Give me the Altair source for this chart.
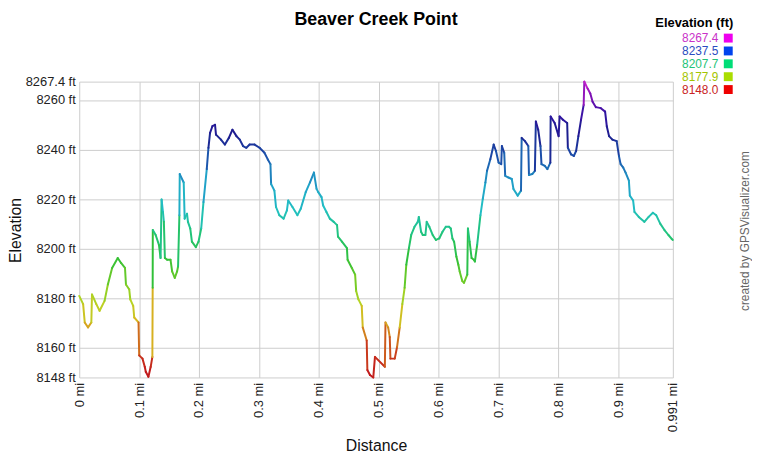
import altair as alt
import pandas as pd

# ---- data ----
distance_mi = [
    0.0000, 0.0065, 0.0092, 0.0147, 0.0202, 0.0213, 0.0285, 0.0340, 0.0423, 0.0478,
    0.0549, 0.0643, 0.0698, 0.0764, 0.0780, 0.0835, 0.0852, 0.0901, 0.0918, 0.0990,
    0.1001, 0.1056, 0.1094, 0.1111, 0.1155, 0.1193, 0.1221, 0.1226, 0.1228, 0.1276,
    0.1331, 0.1358, 0.1375, 0.1397, 0.1413, 0.1430, 0.1468, 0.1524, 0.1551, 0.1595,
    0.1634, 0.1650, 0.1672, 0.1678, 0.1744, 0.1760, 0.1799, 0.1815, 0.1854, 0.1881,
    0.1947, 0.1991, 0.2036, 0.2074, 0.2129, 0.2157, 0.2184, 0.2223, 0.2267, 0.2283,
    0.2366, 0.2432, 0.2498, 0.2558, 0.2625, 0.2680, 0.2735, 0.2790, 0.2845, 0.2927,
    0.3010, 0.3092, 0.3148, 0.3192, 0.3203, 0.3258, 0.3285, 0.3340, 0.3412, 0.3467,
    0.3489, 0.3560, 0.3643, 0.3698, 0.3781, 0.3852, 0.3918, 0.3962, 0.3990, 0.4045,
    0.4072, 0.4127, 0.4183, 0.4249, 0.4304, 0.4320, 0.4386, 0.4469, 0.4480, 0.4551,
    0.4606, 0.4623, 0.4661, 0.4716, 0.4733, 0.4799, 0.4810, 0.4854, 0.4909, 0.4937,
    0.5102, 0.5113, 0.5157, 0.5184, 0.5195, 0.5267, 0.5306, 0.5350, 0.5394, 0.5432,
    0.5460, 0.5504, 0.5542, 0.5597, 0.5652, 0.5669, 0.5707, 0.5735, 0.5779, 0.5801,
    0.5845, 0.5900, 0.5955, 0.6010, 0.6065, 0.6120, 0.6175, 0.6203, 0.6230, 0.6258,
    0.6296, 0.6329, 0.6351, 0.6395, 0.6423, 0.6478, 0.6489, 0.6517, 0.6550, 0.6588,
    0.6605, 0.6643, 0.6698, 0.6737, 0.6781, 0.6808, 0.6863, 0.6919, 0.6957, 0.7001,
    0.7045, 0.7056, 0.7095, 0.7111, 0.7166, 0.7221, 0.7249, 0.7320, 0.7375, 0.7386,
    0.7441, 0.7497, 0.7508, 0.7563, 0.7607, 0.7623, 0.7662, 0.7700, 0.7717, 0.7772,
    0.7816, 0.7865, 0.7870, 0.7937, 0.8003, 0.8020, 0.8075, 0.8146, 0.8157, 0.8212,
    0.8256, 0.8295, 0.8333, 0.8377, 0.8421, 0.8432, 0.8487, 0.8532, 0.8570, 0.8625,
    0.8708, 0.8779, 0.8807, 0.8845, 0.8900, 0.8972, 0.9010, 0.9038, 0.9082, 0.9121,
    0.9176, 0.9192, 0.9247, 0.9269, 0.9341, 0.9434, 0.9506, 0.9577, 0.9632, 0.9699,
    0.9770, 0.9836, 0.9891, 0.9910,
]

elevation_ft = [
    8180.9, 8177.6, 8170.2, 8168.2, 8170.2, 8181.5, 8177.6, 8174.9, 8178.9, 8185.5,
    8192.2, 8196.2, 8194.2, 8192.2, 8185.5, 8183.5, 8179.5, 8176.9, 8172.2, 8170.2,
    8156.9, 8155.6, 8152.3, 8150.3, 8148.3, 8152.3, 8156.3, 8184.2, 8207.5, 8205.5,
    8201.5, 8196.2, 8219.8, 8214.8, 8210.8, 8196.2, 8195.5, 8195.5, 8190.8, 8188.2,
    8190.8, 8192.8, 8213.5, 8230.1, 8226.7, 8212.1, 8214.1, 8210.8, 8208.1, 8202.8,
    8200.6, 8202.8, 8208.1, 8218.8, 8232.1, 8240.7, 8246.7, 8249.4, 8250.0, 8246.0,
    8244.0, 8242.0, 8244.7, 8248.0, 8245.4, 8244.0, 8241.4, 8240.7, 8242.0, 8242.0,
    8240.7, 8238.7, 8236.0, 8234.1, 8226.1, 8223.4, 8216.8, 8213.5, 8212.1, 8215.4,
    8219.4, 8216.8, 8213.5, 8216.1, 8222.8, 8226.7, 8230.7, 8224.1, 8222.8, 8220.8,
    8217.4, 8214.8, 8212.1, 8210.8, 8209.5, 8204.8, 8202.8, 8200.2, 8195.5, 8192.2,
    8189.5, 8182.9, 8179.5, 8176.9, 8168.2, 8162.9, 8151.0, 8149.0, 8148.0, 8156.3,
    8152.3, 8170.2, 8168.2, 8164.3, 8155.6, 8155.6, 8160.3, 8168.2, 8177.6, 8184.2,
    8193.5, 8200.2, 8205.5, 8208.8, 8210.8, 8212.8, 8206.8, 8205.5, 8205.5, 8210.8,
    8208.8, 8205.5, 8203.5, 8204.1, 8206.8, 8208.8, 8208.8, 8208.1, 8204.1, 8202.8,
    8196.8, 8193.5, 8190.8, 8186.9, 8186.2, 8189.5, 8208.1, 8202.8, 8196.2, 8195.5,
    8194.8, 8201.5, 8213.5, 8220.1, 8226.7, 8231.4, 8236.1, 8242.0, 8239.4, 8234.7,
    8234.1, 8241.4, 8238.7, 8229.4, 8228.7, 8228.1, 8224.1, 8221.4, 8223.4, 8244.7,
    8243.4, 8241.4, 8229.7, 8230.1, 8231.4, 8251.3, 8248.0, 8241.4, 8234.1, 8233.4,
    8232.1, 8234.7, 8253.3, 8250.7, 8245.4, 8253.3, 8252.0, 8250.7, 8240.7, 8238.0,
    8237.4, 8239.4, 8245.4, 8252.0, 8258.0, 8267.4, 8264.6, 8262.6, 8259.3, 8257.1,
    8256.7, 8255.3, 8249.4, 8245.4, 8244.0, 8243.4, 8237.4, 8234.1, 8232.7, 8230.7,
    8227.4, 8221.4, 8219.4, 8214.8, 8212.8, 8210.8, 8212.8, 8214.5, 8213.5, 8210.1,
    8207.5, 8205.5, 8203.9, 8203.5,
]

x_ticks = [0, 0.1, 0.2, 0.3, 0.4, 0.5, 0.6, 0.7, 0.8, 0.9, 0.991]
y_ticks = [8148, 8160, 8180, 8200, 8220, 8240, 8260, 8267.4]

chart_title = "Beaver Creek Point"
legend_title = "Elevation (ft)"
credit_text = "created by GPSVisualizer.com"

legend_labels = ["8267.4", "8237.5", "8207.7", "8177.9", "8148.0"]
legend_text_colors = ["#c932c9", "#2a4cc0", "#24c477", "#a3c400", "#c92424"]
legend_swatch_colors = ["#ee00ee", "#0044ee", "#00dd77", "#aadd00", "#ee0000"]

color_stops = [8148, 8156, 8164, 8171, 8178, 8186, 8196, 8206, 8216, 8226,
               8236, 8246, 8254, 8260, 8267.4]
color_range = ["#c0141c", "#c8321c", "#d0701c", "#d8b820", "#b8d424", "#78cc24",
               "#30c038", "#20c47c", "#22c0c4", "#20a0c8", "#1c58ae", "#1c1c8e",
               "#3414a4", "#7010b0", "#d020d0"]

FONT = "Liberation Sans"

# ---- segments of the profile ----
seg = pd.DataFrame({
    "d0": distance_mi[:-1], "d1": distance_mi[1:],
    "e0": elevation_ft[:-1], "e1": elevation_ft[1:],
})
seg["mid"] = (seg["e0"] + seg["e1"]) / 2

profile = alt.Chart(seg).mark_rule(strokeWidth=2, strokeCap="round").encode(
    x=alt.X("d0:Q",
            scale=alt.Scale(domain=[0, 0.991], nice=False, zero=False),
            axis=alt.Axis(values=x_ticks, labelExpr="datum.value + ' mi'",
                          title="Distance", grid=True, gridColor="#cccccc",
                          domain=False, ticks=False, labelAngle=270,
                          labelAlign="right", labelBaseline="middle",
                          labelPadding=5, labelFlush=False, labelOverlap=False,
                          labelFont=FONT, labelFontSize=13, labelColor="#222222",
                          titleFont=FONT, titleFontSize=16, titleFontWeight="normal",
                          titleColor="#111111", titleX=300, titleY=69,
                          titleBaseline="middle", titleAlign="center")),
    x2="d1:Q",
    y=alt.Y("e0:Q",
            scale=alt.Scale(domain=[8148, 8267.4], nice=False, zero=False),
            axis=alt.Axis(values=y_ticks, labelExpr="datum.value + ' ft'",
                          title="Elevation", grid=True, gridColor="#cccccc",
                          domain=False, ticks=False, labelPadding=4,
                          labelFlush=False, labelOverlap=False,
                          labelFont=FONT, labelFontSize=13, labelColor="#222222",
                          titleFont=FONT, titleFontSize=16, titleFontWeight="normal",
                          titleColor="#111111", titleX=-64, titleY=150,
                          titleAngle=270, titleBaseline="middle", titleAlign="center")),
    y2="e1:Q",
    color=alt.Color("mid:Q",
                    scale=alt.Scale(domain=color_stops, range=color_range, interpolate="rgb"),
                    legend=None),
)

# ---- custom legend ----
leg = pd.DataFrame({
    "label": legend_labels,
    "tcolor": legend_text_colors,
    "scolor": legend_swatch_colors,
    "row": list(range(len(legend_labels))),
})
leg_y = alt.Y("row:Q", scale=alt.Scale(domain=[0, 4], range=[-44, 8]), axis=None)

leg_text = alt.Chart(leg).mark_text(
    align="right", baseline="middle", font=FONT, fontSize=12
).encode(x=alt.value(646), y=leg_y, text="label:N",
         color=alt.Color("tcolor:N", scale=None))

leg_sw = alt.Chart(leg).mark_square(size=81, filled=True, opacity=1).encode(
    x=alt.value(656), y=leg_y, color=alt.Color("scolor:N", scale=None))

leg_head = alt.Chart(pd.DataFrame({"t": [legend_title]})).mark_text(
    align="right", baseline="middle", font=FONT, fontSize=13, fontWeight="bold",
    color="#000000"
).encode(x=alt.value(661), y=alt.value(-59), text="t:N")

title_mark = alt.Chart(pd.DataFrame({"t": [chart_title]})).mark_text(
    align="center", baseline="middle", font=FONT, fontSize=18, fontWeight="bold",
    color="#000000"
).encode(x=alt.value(300), y=alt.value(-62), text="t:N")

credit = alt.Chart(pd.DataFrame({"t": [credit_text]})).mark_text(
    align="center", baseline="middle", font=FONT, fontSize=12, angle=270,
    color="#666666"
).encode(x=alt.value(673), y=alt.value(151), text="t:N")

chart = alt.layer(profile, leg_text, leg_sw, leg_head, title_mark, credit).resolve_scale(
    y="independent", color="independent"
).properties(
    width=600, height=299,
    padding={"left": 72, "top": 72, "right": 80, "bottom": 80},
    autosize=alt.AutoSizeParams(type="none"),
    background="#ffffff",
).configure_view(strokeWidth=0)

chart.save("out.html", embed_options={"renderer": "svg", "actions": False})
